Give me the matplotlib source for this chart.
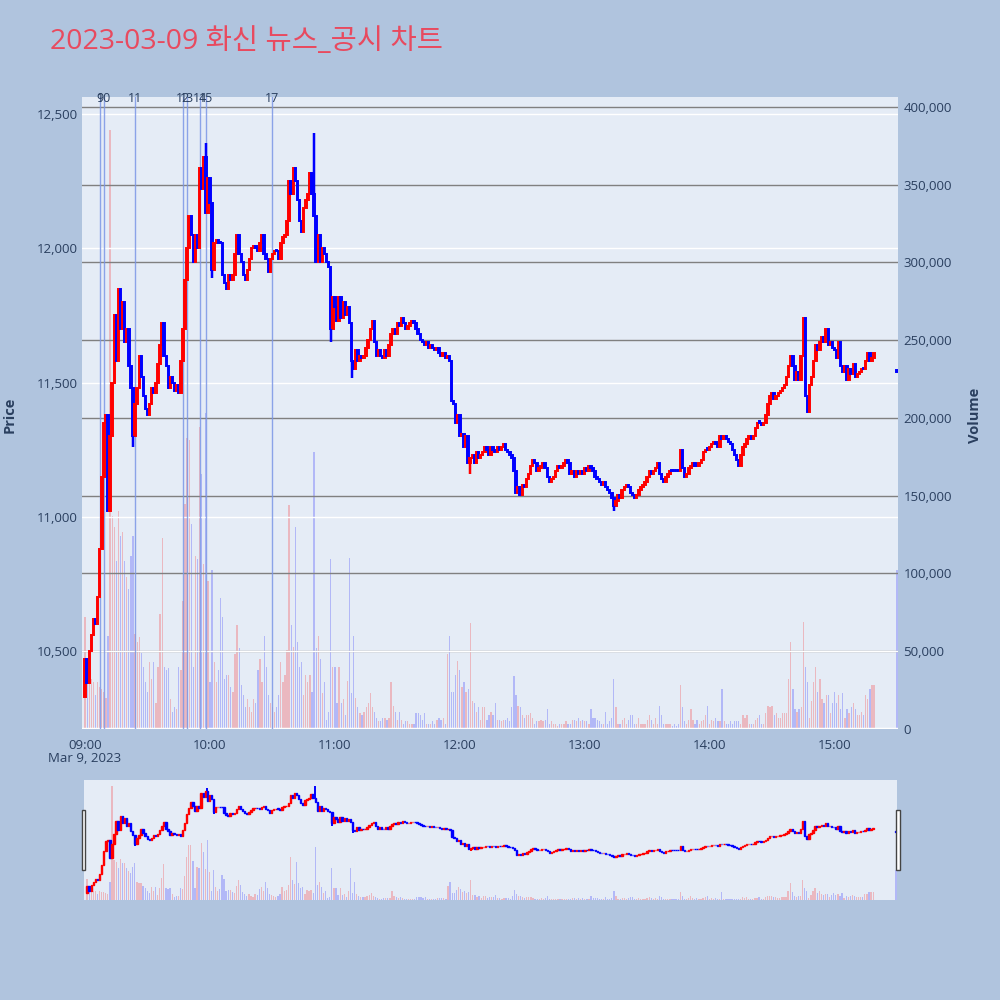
import numpy as np
import matplotlib
matplotlib.use('Agg')
import matplotlib.pyplot as plt
import matplotlib.transforms as mtransforms
from matplotlib.patches import Rectangle
from matplotlib.ticker import FuncFormatter

plt.rcParams['font.family'] = ['Open Sans', 'Noto Sans CJK KR', 'DejaVu Sans']

title = '2023-03-09 화신 뉴스_공시 차트'

# 1-minute closes from 09:00 (index = minutes after 09:00), open = previous close
first_open = 10330
closes = [
	10470, 10380, 10500, 10560, 10620, 10600, 10700, 10880, 11150, 11350,
	11380, 11020, 11300, 11500, 11750, 11580, 11850, 11700, 11800, 11650,
	11700, 11560, 11480, 11300, 11420, 11480, 11600, 11520, 11450, 11400,
	11380, 11420, 11480, 11460, 11500, 11570, 11640, 11720, 11600, 11560,
	11480, 11520, 11500, 11470, 11490, 11460, 11580, 11700, 11880, 12000,
	12120, 12050, 11950, 12050, 12000, 12300, 12220, 12340, 12130, 12260,
	12170, 11920, 12020, 12030, 12020, 12020, 11900, 11870, 11850, 11900,
	11880, 11900, 11980, 12050, 11980, 11950, 11900, 11880, 11920, 11960,
	12000, 12010, 12000, 11990, 12020, 12050, 11980, 11960, 11910, 11960,
	11980, 11990, 11990, 11960, 12020, 12040, 12050, 12100, 12250, 12200,
	12300, 12250, 12180, 12100, 12060, 12150, 12180, 12200, 12280, 12200,
	12120, 11950, 12050, 11950, 12000, 11980, 11950, 11930, 11700, 11820,
	11780, 11730, 11820, 11740, 11800, 11750, 11780, 11720, 11580, 11550,
	11620, 11580, 11600, 11590, 11600, 11630, 11660, 11700, 11730, 11650,
	11600, 11620, 11600, 11590, 11620, 11600, 11640, 11680, 11700, 11680,
	11720, 11710, 11740, 11720, 11700, 11710, 11720, 11730, 11720, 11700,
	11680, 11660, 11650, 11640, 11650, 11630, 11640, 11630, 11620, 11630,
	11610, 11600, 11610, 11590, 11600, 11580, 11430, 11420, 11350, 11380,
	11300, 11310, 11260, 11300, 11200, 11220, 11230, 11200, 11240, 11220,
	11230, 11240, 11260, 11250, 11230, 11260, 11250, 11240, 11260, 11250,
	11260, 11270, 11250, 11240, 11230, 11220, 11170, 11090, 11110, 11080,
	11120, 11110, 11140, 11160, 11190, 11210, 11200, 11170, 11180, 11190,
	11200, 11180, 11150, 11130, 11140, 11150, 11170, 11190, 11180, 11190,
	11200, 11210, 11200, 11160, 11170, 11150, 11170, 11160, 11170, 11160,
	11180, 11170, 11190, 11180, 11170, 11150, 11140, 11130, 11120, 11130,
	11110, 11100, 11090, 11070, 11040, 11060, 11080, 11070, 11100, 11110,
	11120, 11110, 11090, 11080, 11070, 11080, 11100, 11110, 11120, 11130,
	11150, 11170, 11160, 11170, 11180, 11200, 11160, 11140, 11130, 11150,
	11160, 11170, 11170, 11170, 11170, 11170, 11250, 11180, 11150, 11160,
	11180, 11190, 11200, 11190, 11190, 11200, 11210, 11240, 11250, 11250,
	11260, 11270, 11280, 11270, 11260, 11300, 11290, 11300, 11290, 11280,
	11270, 11250, 11230, 11210, 11190, 11230, 11260, 11270, 11290, 11300,
	11290, 11300, 11330, 11350, 11350, 11340, 11350, 11380, 11420, 11450,
	11460, 11440, 11450, 11460, 11470, 11480, 11490, 11520, 11560, 11600,
	11560, 11510, 11540, 11510, 11600, 11740, 11450, 11390, 11490, 11520,
	11580, 11640, 11620, 11650, 11670, 11650, 11700, 11640, 11650, 11630,
	11620, 11590, 11650, 11560, 11540, 11560, 11510, 11550, 11530, 11570,
	11520, 11530, 11540, 11550, 11550, 11580, 11610, 11580, 11590, 11610,
]
highs = {58: 12390, 110: 12430}
lows = {23: 11260, 61: 11890, 118: 11650, 128: 11515, 185: 11160, 254: 11020}

# volume per minute, in thousands of shares
volume_k = [
	72, 30, 35, 32, 30, 22, 30, 27, 26, 24,
	20, 60, 385, 137, 130, 108, 140, 124, 127, 108,
	98, 90, 111, 124, 61, 56, 59, 49, 40, 30,
	24, 43, 32, 43, 17, 40, 74, 123, 40, 38,
	39, 19, 11, 14, 13, 40, 38, 82, 145, 187,
	186, 132, 40, 111, 109, 194, 164, 106, 203, 95,
	30, 102, 43, 30, 38, 84, 72, 32, 35, 35,
	27, 24, 48, 67, 52, 28, 22, 14, 19, 14,
	11, 19, 17, 38, 45, 30, 60, 40, 22, 17,
	14, 11, 14, 22, 43, 30, 35, 51, 144, 67,
	53, 130, 56, 40, 43, 22, 35, 30, 35, 24,
	178, 52, 60, 45, 23, 30, 6, 11, 109, 40,
	40, 17, 40, 17, 19, 9, 31, 110, 23, 60,
	20, 14, 10, 9, 11, 14, 17, 23, 14, 11,
	7, 5, 5, 7, 7, 6, 7, 30, 15, 11,
	6, 11, 6, 3, 5, 5, 3, 3, 3, 10,
	10, 9, 6, 10, 3, 3, 3, 5, 3, 6,
	7, 6, 7, 3, 48, 60, 24, 24, 35, 44,
	38, 27, 30, 24, 26, 68, 18, 17, 11, 14,
	6, 14, 14, 6, 9, 11, 9, 17, 6, 6,
	5, 6, 6, 7, 5, 14, 34, 22, 15, 14,
	9, 7, 9, 9, 10, 7, 3, 5, 5, 6,
	5, 6, 13, 3, 5, 3, 3, 2, 3, 3,
	3, 5, 3, 3, 6, 6, 5, 7, 5, 6,
	5, 5, 3, 13, 7, 7, 6, 5, 3, 3,
	11, 3, 5, 7, 32, 14, 3, 3, 6, 7,
	3, 6, 9, 9, 3, 3, 7, 3, 3, 3,
	6, 9, 6, 3, 7, 3, 15, 9, 3, 3,
	3, 3, 2, 3, 2, 3, 28, 14, 5, 3,
	6, 13, 6, 3, 6, 3, 5, 6, 9, 15,
	3, 6, 5, 7, 5, 5, 26, 5, 3, 3,
	5, 3, 5, 5, 5, 3, 9, 7, 9, 3,
	3, 3, 6, 7, 9, 3, 3, 10, 15, 14,
	15, 9, 10, 7, 7, 10, 10, 10, 32, 56,
	26, 13, 11, 13, 14, 69, 40, 30, 7, 18,
	30, 40, 24, 32, 19, 17, 22, 22, 10, 17,
	24, 17, 22, 13, 23, 7, 13, 10, 14, 17,
	13, 9, 9, 11, 9, 22, 19, 26, 28, 28,
]

# closing auction at 15:30
auction_minute = 390
auction_price = 11540
auction_volume_k = 102

news_minutes = [7, 9, 24, 47, 49, 55, 58, 90]
news_labels = ['9', '10', '11', '12', '13', '14', '15', '17']

hour_ticks = [0, 60, 120, 180, 240, 300, 360]
hour_labels = ['09:00', '10:00', '11:00', '12:00', '13:00', '14:00', '15:00']
price_ticks = [10500, 11000, 11500, 12000, 12500]
volume_ticks = [0, 50000, 100000, 150000, 200000, 250000, 300000, 350000, 400000]

BG = '#B0C4DE'
PLOT_BG = '#E5ECF6'
TXT = '#2a3f5f'
UP = '#ff0000'
DOWN = '#0000ff'


def draw_candles(ax, x, o, c, colors, width, lw):
	bottoms = np.minimum(o, c)
	heights = np.maximum(np.abs(c - o), 5)
	ax.bar(x, heights, bottom=bottoms, width=width, color=colors,
		edgecolor=colors, linewidth=lw, zorder=3)
	for m, h in highs.items():
		ax.vlines(m, max(o[m], c[m]), h, color=colors[m], lw=lw + 0.4, zorder=3)
	for m, l in lows.items():
		ax.vlines(m, l, min(o[m], c[m]), color=colors[m], lw=lw + 0.4, zorder=3)


def main():
	c = np.array(closes + [auction_price], dtype=float)
	o = np.array([first_open] + closes[:-1] + [auction_price], dtype=float)
	x = np.array(list(range(len(closes))) + [auction_minute])
	vols = np.array(volume_k + [auction_volume_k]) * 1000
	colors = [UP if cc > oo else DOWN for oo, cc in zip(o, c)]
	colors[-1] = DOWN

	fig = plt.figure(figsize=(10, 10), dpi=100, facecolor=BG)

	ax_vol = fig.add_axes([0.082, 0.271, 0.816, 0.632])
	ax_vol.set_facecolor(PLOT_BG)
	ax_price = ax_vol.twinx()
	ax_price.patch.set_visible(False)

	# volume (right axis)
	ax_vol.bar(x, vols, width=0.6, color=colors, alpha=0.22, linewidth=0)
	ax_vol.set_ylim(0, 406400)
	ax_vol.set_yticks(volume_ticks)
	ax_vol.yaxis.set_major_formatter(FuncFormatter(lambda v, p: '{:,}'.format(int(v))))
	ax_vol.yaxis.tick_right()
	ax_vol.grid(axis='y', color='#808080', lw=1)
	ax_vol.axhline(0, color='white', lw=2.5, zorder=4)

	# price (left axis)
	draw_candles(ax_price, x, o, c, colors, 0.7, 1.4)
	ax_price.set_ylim(10210, 12563)
	ax_price.set_yticks(price_ticks)
	ax_price.yaxis.set_major_formatter(FuncFormatter(lambda v, p: '{:,}'.format(int(v))))
	ax_price.yaxis.tick_left()
	ax_price.grid(axis='y', color='white', lw=1)
	ax_price.set_xlim(-1.5, 390.5)

	trans = mtransforms.blended_transform_factory(ax_price.transData, ax_price.transAxes)
	for m, lab in zip(news_minutes, news_labels):
		ax_price.axvline(m, color='#7b96e6', lw=1, alpha=0.85, zorder=2)
		ax_price.text(m, 0.998, lab, transform=trans, ha='center', va='center',
			fontsize=9, color=TXT, zorder=5)

	ax_vol.set_xticks(hour_ticks)
	ax_vol.set_xticklabels(hour_labels)
	for ax in (ax_vol, ax_price):
		for s in ax.spines.values():
			s.set_visible(False)
		ax.tick_params(length=0, labelsize=9.5, labelcolor=TXT)
	ax_vol.tick_params(axis='x', pad=7)
	ax_vol.tick_params(axis='y', pad=4)
	ax_price.tick_params(axis='y', pad=3)
	ax_price.tick_params(axis='x', labelbottom=False)

	fig.text(0.085, 0.242, 'Mar 9, 2023', ha='center', va='center', fontsize=9.5, color=TXT)
	fig.text(0.010, 0.585, 'Price', rotation=90, ha='center', va='center',
		fontsize=10.5, color=TXT, fontweight='bold')
	fig.text(0.975, 0.585, 'Volume', rotation=90, ha='center', va='center',
		fontsize=10.5, color=TXT, fontweight='bold')
	fig.text(0.05, 0.958, title, ha='left', va='center', fontsize=20.5, color='#E84A5F')

	# range slider
	ax_s = fig.add_axes([0.084, 0.1, 0.813, 0.12])
	ax_s.set_facecolor(PLOT_BG)
	ax_s.bar(x, vols, width=0.6, color=colors, alpha=0.22, linewidth=0)
	ax_s.set_ylim(0, 406400)
	ax_s2 = ax_s.twinx()
	draw_candles(ax_s2, x, o, c, colors, 0.7, 1.0)
	ax_s2.set_ylim(10200, 12550)
	ax_s2.set_xlim(-1.5, 390.5)
	for ax in (ax_s, ax_s2):
		ax.set_xticks([])
		ax.set_yticks([])
		for s in ax.spines.values():
			s.set_visible(False)

	for hx in (0.0817, 0.8963):
		fig.patches.append(Rectangle((hx, 0.13), 0.0038, 0.06, transform=fig.transFigure,
			facecolor='white', edgecolor='#444444', lw=1, zorder=10))

	fig.savefig('out.png', dpi=100, facecolor=BG)


if __name__ == '__main__':
	main()
